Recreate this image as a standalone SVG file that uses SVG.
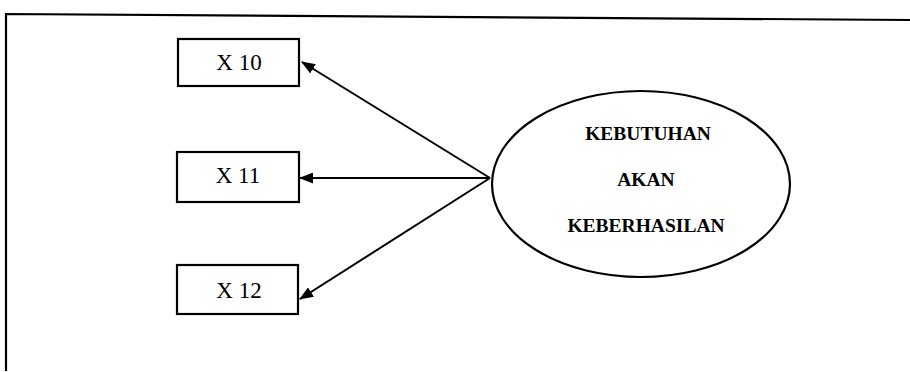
<svg xmlns="http://www.w3.org/2000/svg" width="910" height="372" viewBox="0 0 910 372">
<style>
.box{fill:#fff;stroke:#000;stroke-width:2.2}
.ell{fill:#fff;stroke:#000;stroke-width:2.2}
.lbl{font-family:"Liberation Serif","Times New Roman",serif;font-size:23px;fill:#000;text-anchor:middle}
.big{font-family:"Liberation Serif","Times New Roman",serif;font-size:19.5px;font-weight:bold;fill:#000;text-anchor:middle}
.con{stroke:#000;stroke-width:2;fill:none;marker-end:url(#ah)}
</style>
<defs>
<marker id="ah" viewBox="0 0 14 11" refX="13" refY="5.5" markerWidth="14" markerHeight="11" markerUnits="userSpaceOnUse" orient="auto">
<path d="M0,0 L14,5.5 L0,11 z" fill="#000"/>
</marker>
</defs>
<rect width="910" height="372" fill="#fff"/>
<path d="M6,371 L6,14 L910,20" fill="none" stroke="#000" stroke-width="2.2"/>
<g id="connectors">
<line class="con" x1="490" y1="178" x2="302" y2="62"/>
<line class="con" x1="490" y1="178" x2="300" y2="178"/>
<line class="con" x1="490" y1="178" x2="300" y2="299"/>
</g>
<g id="x10">
<rect class="box" x="178" y="39" width="121" height="47"/>
<text class="lbl" x="239" y="70">X 10</text>
</g>
<g id="x11">
<rect class="box" x="177" y="152" width="122" height="50"/>
<text class="lbl" x="238" y="183">X 11</text>
</g>
<g id="x12">
<rect class="box" x="177" y="265" width="121" height="49"/>
<text class="lbl" x="239" y="298">X 12</text>
</g>
<g id="kebutuhan">
<ellipse class="ell" cx="641" cy="184" rx="149" ry="93"/>
<text class="big" x="648" y="140">KEBUTUHAN</text>
<text class="big" x="646" y="186">AKAN</text>
<text class="big" x="646" y="232">KEBERHASILAN</text>
</g>
</svg>
